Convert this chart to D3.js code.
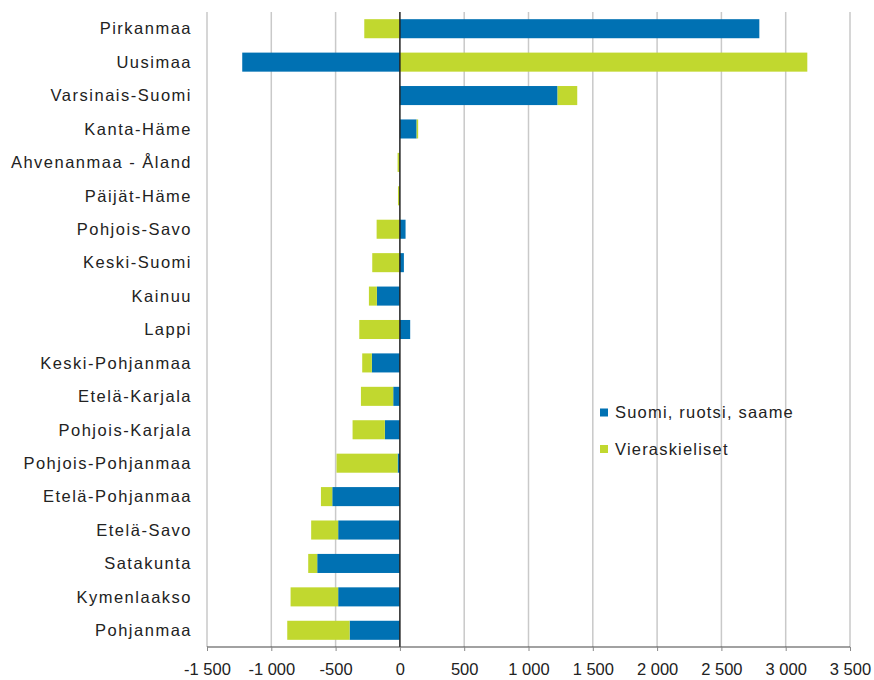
<!DOCTYPE html>
<html><head><meta charset="utf-8">
<script src="https://cdn.jsdelivr.net/npm/d3@7"></script>
<style>body{margin:0;background:#fff}svg text{font-family:"Liberation Sans",Arial,sans-serif}</style>
</head><body>
<svg id="c" width="874" height="680"></svg>
<script>
const regions = ["Pirkanmaa","Uusimaa","Varsinais-Suomi","Kanta-Häme","Ahvenanmaa - Åland","Päijät-Häme","Pohjois-Savo","Keski-Suomi","Kainuu","Lappi","Keski-Pohjanmaa","Etelä-Karjala","Pohjois-Karjala","Pohjois-Pohjanmaa","Etelä-Pohjanmaa","Etelä-Savo","Satakunta","Kymenlaakso","Pohjanmaa"];
const domestic = [2795,-1226,1226,130,0,0,44,31,-179,80,-218,-52,-117,-18,-526,-480,-643,-480,-391];
const foreign = [-277,3168,153,12,-18,-15,-181,-215,-62,-316,-75,-251,-251,-475,-88,-210,-70,-370,-485];
const seriesNames = ["Suomi, ruotsi, saame","Vieraskieliset"];
const tickValues = [-1500,-1000,-500,0,500,1000,1500,2000,2500,3000,3500];
const colors = ["#0071b3","#c1d82f"];

const svg = d3.select("#c");
const pLeft = 207, pRight = 850, pTop = 12, pBottom = 647;
const x = d3.scaleLinear().domain([-1500,3500]).range([pLeft,pRight]);
const y = d3.scaleBand().domain(regions).range([pTop,pBottom]).paddingInner(0.43).paddingOuter(0.215);

// grid
svg.append("g").selectAll("line").data(tickValues.filter(d=>d!==0)).join("line")
  .attr("x1",d=>x(d)).attr("x2",d=>x(d)).attr("y1",pTop).attr("y2",pBottom)
  .attr("stroke","#c9c9c9").attr("stroke-width",1.5);

// stacking: positive and negative separately, domestic first
const data = regions.map((r,i)=>({r, vals:[domestic[i],foreign[i]]}));
const segs = [];
data.forEach(d=>{
  let pos=0, neg=0;
  d.vals.forEach((v,k)=>{
    if(v>=0){segs.push({r:d.r,k,x0:pos,x1:pos+v});pos+=v;}
    else{segs.push({r:d.r,k,x0:neg+v,x1:neg});neg+=v;}
  });
});
svg.append("g").selectAll("rect").data(segs.filter(s=>s.x1!==s.x0)).join("rect")
  .attr("x",s=>x(s.x0)).attr("width",s=>x(s.x1)-x(s.x0))
  .attr("y",s=>y(s.r)).attr("height",y.bandwidth())
  .attr("fill",s=>colors[s.k]);

// zero line
svg.append("line").attr("x1",x(0)).attr("x2",x(0)).attr("y1",pTop).attr("y2",pBottom)
  .attr("stroke","#222").attr("stroke-width",1.5);

// bottom axis
const xAxis = d3.axisBottom(x).tickValues(tickValues).tickSize(4)
  .tickFormat(d=>d3.format(",")(d).replace(/,/g," ").replace("−","-"));
const ga = svg.append("g").attr("transform",`translate(0,${pBottom})`).call(xAxis);
ga.select(".domain").attr("stroke","#444").attr("stroke-width",1.2).attr("d",`M${pLeft},0H${pRight}`);
ga.selectAll(".tick line").attr("stroke","#888");
ga.selectAll(".tick text").attr("font-size",16.5).attr("fill","#222").attr("y",28).attr("dy",0)
  .attr("font-family","Liberation Sans, Arial, sans-serif");

// category labels
svg.append("g").selectAll("text").data(regions).join("text")
  .attr("x",192).attr("y",d=>y(d)+y.bandwidth()/2).attr("dy","0.35em")
  .attr("text-anchor","end").attr("font-size",16.5).attr("letter-spacing","1.5px")
  .attr("fill","#222").text(d=>d);

// legend
const lg = svg.append("g").selectAll("g").data(seriesNames).join("g")
  .attr("transform",(d,i)=>`translate(600,${412.5+i*36.5})`);
lg.append("rect").attr("x",0).attr("y",-4).attr("width",8).attr("height",8).attr("fill",(d,i)=>colors[i]);
lg.append("text").attr("x",15).attr("y",0).attr("dy","0.35em").attr("font-size",16.5)
  .attr("letter-spacing","1.2px").attr("fill","#222").text(d=>d);
</script>
</body></html>
